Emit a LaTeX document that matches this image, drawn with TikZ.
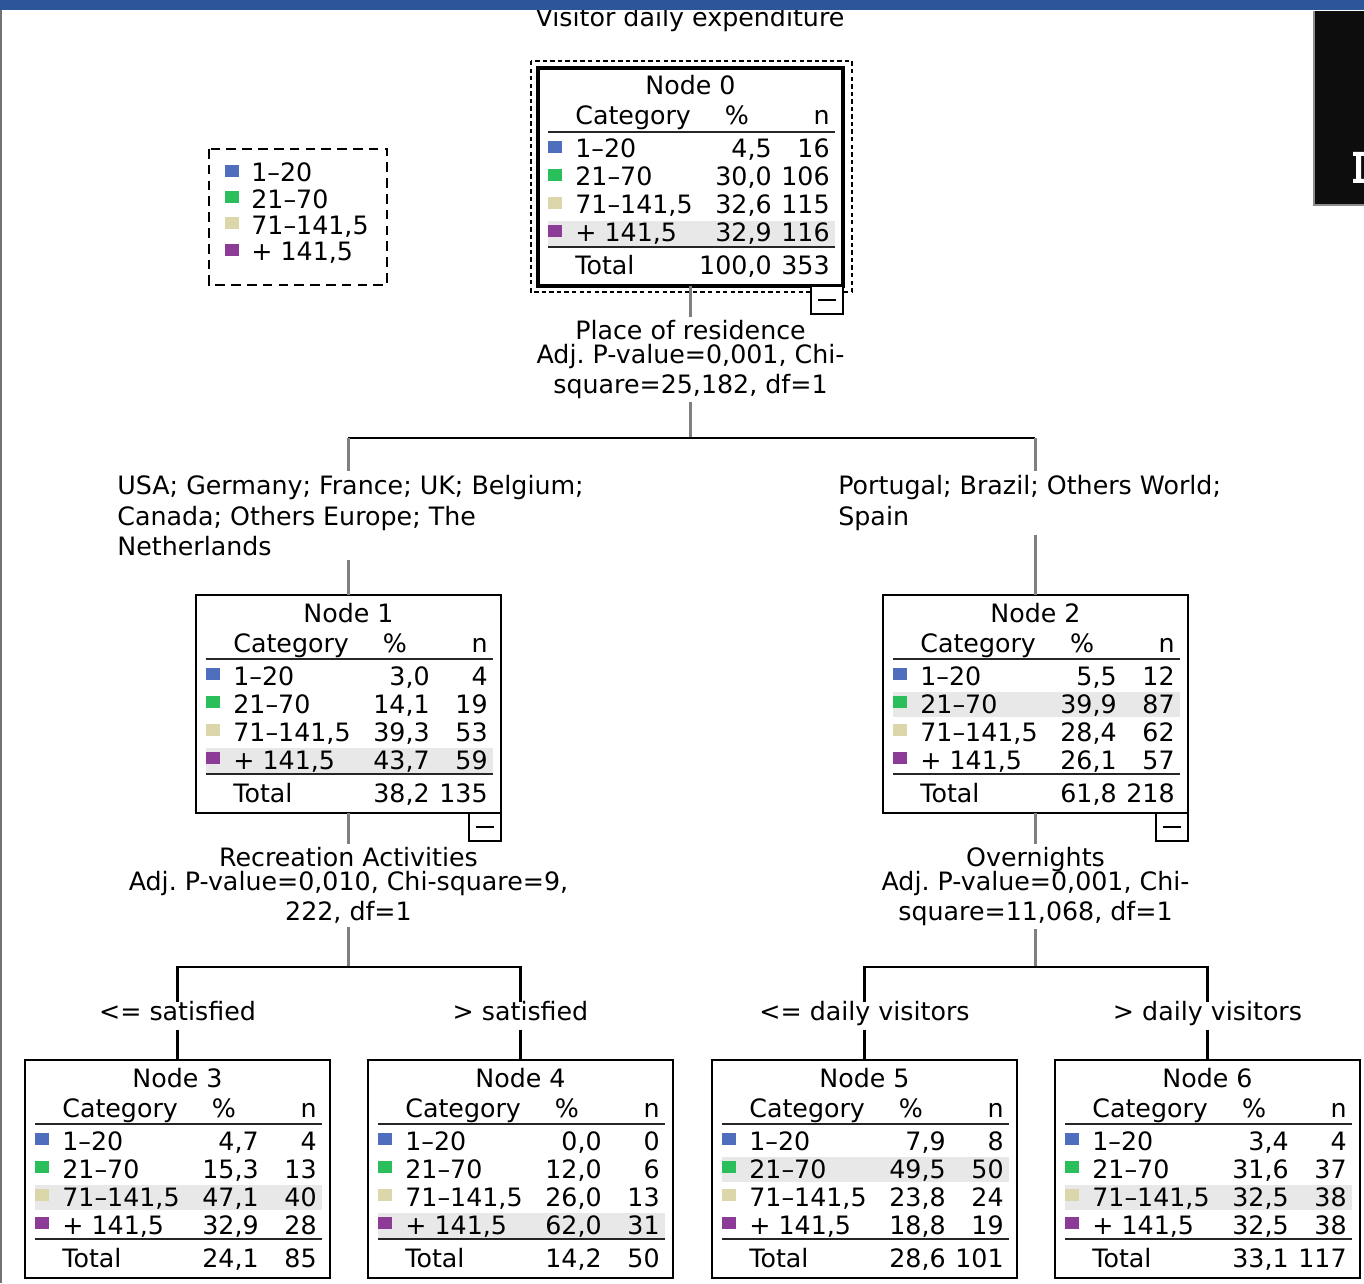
\documentclass[tikz,border=0pt]{standalone}
\usepackage{fontspec}
\setmainfont{DejaVu Sans}
\definecolor{cat1}{HTML}{506EBE}
\definecolor{cat2}{HTML}{2ABF5A}
\definecolor{cat3}{HTML}{DCD7AA}
\definecolor{cat4}{HTML}{8C3C96}
\definecolor{barblue}{HTML}{2C5697}
\definecolor{rowshade}{HTML}{E8E8E8}

\tikzset{
  cell/.style={inner sep=0pt},
  catbox/.style={draw, line width=1.1pt, minimum width=6.1cm, minimum height=4.36cm,
    anchor=north west, inner sep=0pt, outer sep=0pt},
  rootbox/.style={catbox, line width=2.2pt},
  headrule/.style={draw=black!85, line width=1.1pt},
  foldbox/.style={draw, fill=white, line width=1.1pt, minimum width=0.64cm,
    minimum height=0.56cm, anchor=north east, inner sep=0pt, outer sep=0pt,
    path picture={\draw[line width=1pt] ([xshift=0.14cm]path picture bounding box.west)
      -- ([xshift=-0.14cm]path picture bounding box.east);}},
  stem/.style={draw=black!50, line width=1.8pt},
  branch/.style={draw=black, line width=1.2pt},
  splitlabel/.style={align=center, anchor=north, inner xsep=0pt, inner ysep=1.7pt},
  grouplabel/.style={align=left, anchor=north west, inner xsep=0pt, inner ysep=2.3pt},
  edgelabel/.style={anchor=base, inner xsep=0pt, inner ysep=2.7pt,
    text height=0.76em, text depth=0.25em},
}

% category names, in the order of the colours cat1..cat4
\newcommand{\catlabel}[1]{\ifcase#1\or 1--20\or 21--70\or 71--141,5\or + 141,5\fi}

% one tree node: [box style]{name}{left}{top}{number}{modal row}{rows}{total %}{total n}
\newcommand{\catnode}[9][catbox]{%
  \begin{scope}[shift={(#3,#4)}]
    \fill[rowshade] (10,{41+28*#6}) rectangle (297,{66+28*#6});
    \node[#1] (#2) at (0,0) {};
    \node[cell, anchor=base] (#2-title) at (152.5,27) {Node #5};
    \node[cell, anchor=base west] (#2-headcat) at (37,57) {Category};
    \node[cell, anchor=base] (#2-headpct) at (199,57) {\%};
    \node[cell, anchor=base east] (#2-headn) at (292,57) {n};
    \draw[headrule] (10,64) -- (297,64);
    \foreach \pct/\cnt [count=\i] in {#7} {
      \fill[fill=cat\i] (10,{45+28*\i}) rectangle (24,{57+28*\i});
      \node[cell, anchor=base west] (#2-cat\i) at (37,{62+28*\i}) {\catlabel{\i}};
      \node[cell, anchor=base east] (#2-pct\i) at (234,{62+28*\i}) {\pct};
      \node[cell, anchor=base east] (#2-n\i) at (292,{62+28*\i}) {\cnt};
    }
    \draw[headrule] (10,179) -- (297,179);
    \node[cell, anchor=base west] (#2-total) at (37,207) {Total};
    \node[cell, anchor=base east] (#2-totpct) at (234,207) {#8};
    \node[cell, anchor=base east] (#2-totn) at (292,207) {#9};
  \end{scope}}

\begin{document}
\begin{tikzpicture}[x=0.02cm,y=-0.02cm,font=\fontsize{14.4}{17.3}\selectfont\frenchspacing]
  \useasboundingbox (0,0) rectangle (1364,1283);

  % window frame round the tree
  \node[cell, anchor=base] (title) at (690,27) {Visitor daily expenditure};
  \fill[barblue] (0,0) rectangle (1364,10.5);
  \fill[black!55] (0,10) rectangle (2,1283);
  \fill[black!95] (1314,11) rectangle (1364,205);
  \draw[black!45, line width=.6pt] (1314,11) -- (1314,205) -- (1364,205);
  \fill[white] (1353,152) -- (1364,152) -- (1364,156) -- (1361,156) -- (1361,179)
    -- (1364,179) -- (1364,183) -- (1353,183) -- (1353,179) -- (1356,179)
    -- (1356,156) -- (1353,156) -- cycle;

  % legend
  \draw[line width=.9pt, dash pattern=on 5.5pt off 3.5pt] (209,149) rectangle (387,285);
  \foreach \i in {1,...,4} {
    \fill[fill=cat\i] (225,{138.5+26.3*\i}) rectangle (239,{150.5+26.3*\i});
    \node[cell, anchor=base west] (legend\i) at (251,{155.5+26.3*\i}) {\catlabel{\i}};
  }

  % root
  \catnode[rootbox]{n0}{538}{68}{0}{4}{4{,}5/16, 30{,}0/106, 32{,}6/115, 32{,}9/116}{100{,}0}{353}
  \draw[line width=.9pt, dash pattern=on 2.5pt off 1.8pt] (531,61) rectangle (852,292);
  \node[foldbox] (n0-fold) at (n0.south east) {};

  % first split
  \node[splitlabel] (s0) at (690.5,317)
    {Place of residence\\[-3.7pt]Adj. P-value=0,001, Chi-\\square=25,182, df=1};
  \coordinate (j0) at (690.5,438);
  \node[grouplabel] (b1) at (117,471)
    {USA; Germany; France; UK; Belgium;\\Canada; Others Europe; The\\Netherlands};
  \node[grouplabel] (b2) at (838,471) {Portugal; Brazil; Others World;\\Spain};

  \catnode{n1}{196}{595}{1}{4}{3{,}0/4, 14{,}1/19, 39{,}3/53, 43{,}7/59}{38{,}2}{135}
  \catnode{n2}{883}{595}{2}{2}{5{,}5/12, 39{,}9/87, 28{,}4/62, 26{,}1/57}{61{,}8}{218}
  \node[foldbox] (n1-fold) at (n1.south east) {};
  \node[foldbox] (n2-fold) at (n2.south east) {};

  \draw[stem] (n0.south) -- (s0.north -| n0.south);
  \draw[stem] (s0.south) -- (j0);
  \draw[branch, line cap=square] (j0 -| n1.north) -- (j0 -| n2.north);
  \draw[stem] (j0 -| n1.north) -- (b1.north -| n1.north);
  \draw[stem] (b1.south -| n1.north) -- (n1.north);
  \draw[stem] (j0 -| n2.north) -- (b2.north -| n2.north);
  \draw[stem] (b2.south -| n2.north) -- (n2.north);

  % second level splits
  \node[splitlabel] (s1) at (348.5,844)
    {Recreation Activities\\[-3.7pt]Adj. P-value=0,010, Chi-square=9,\\222, df=1};
  \node[splitlabel] (s2) at (1035.5,844)
    {Overnights\\[-3.7pt]Adj. P-value=0,001, Chi-\\square=11,068, df=1};
  \coordinate (j1) at (348.5,967);
  \coordinate (j2) at (1035.5,967);
  \node[edgelabel] (b3) at (177.5,1020) {<= satisfied};
  \node[edgelabel] (b4) at (520.5,1020) {> satisfied};
  \node[edgelabel] (b5) at (864.5,1020) {<= daily visitors};
  \node[edgelabel] (b6) at (1207.5,1020) {> daily visitors};

  \catnode{n3}{25}{1060}{3}{3}{4{,}7/4, 15{,}3/13, 47{,}1/40, 32{,}9/28}{24{,}1}{85}
  \catnode{n4}{368}{1060}{4}{4}{0{,}0/0, 12{,}0/6, 26{,}0/13, 62{,}0/31}{14{,}2}{50}
  \catnode{n5}{712}{1060}{5}{2}{7{,}9/8, 49{,}5/50, 23{,}8/24, 18{,}8/19}{28{,}6}{101}
  \catnode{n6}{1055}{1060}{6}{3}{3{,}4/4, 31{,}6/37, 32{,}5/38, 32{,}5/38}{33{,}1}{117}

  \draw[stem] (n1.south) -- (s1.north -| n1.south);
  \draw[stem] (s1.south) -- (j1);
  \draw[stem] (n2.south) -- (s2.north -| n2.south);
  \draw[stem] (s2.south) -- (j2);
  \draw[branch] (b3.north -| n3.north) |- (j1) -| (b4.north -| n4.north);
  \draw[branch] (b5.north -| n5.north) |- (j2) -| (b6.north -| n6.north);
  \draw[branch] (b3.south -| n3.north) -- (n3.north);
  \draw[branch] (b4.south -| n4.north) -- (n4.north);
  \draw[branch] (b5.south -| n5.north) -- (n5.north);
  \draw[branch] (b6.south -| n6.north) -- (n6.north);
\end{tikzpicture}
\end{document}
